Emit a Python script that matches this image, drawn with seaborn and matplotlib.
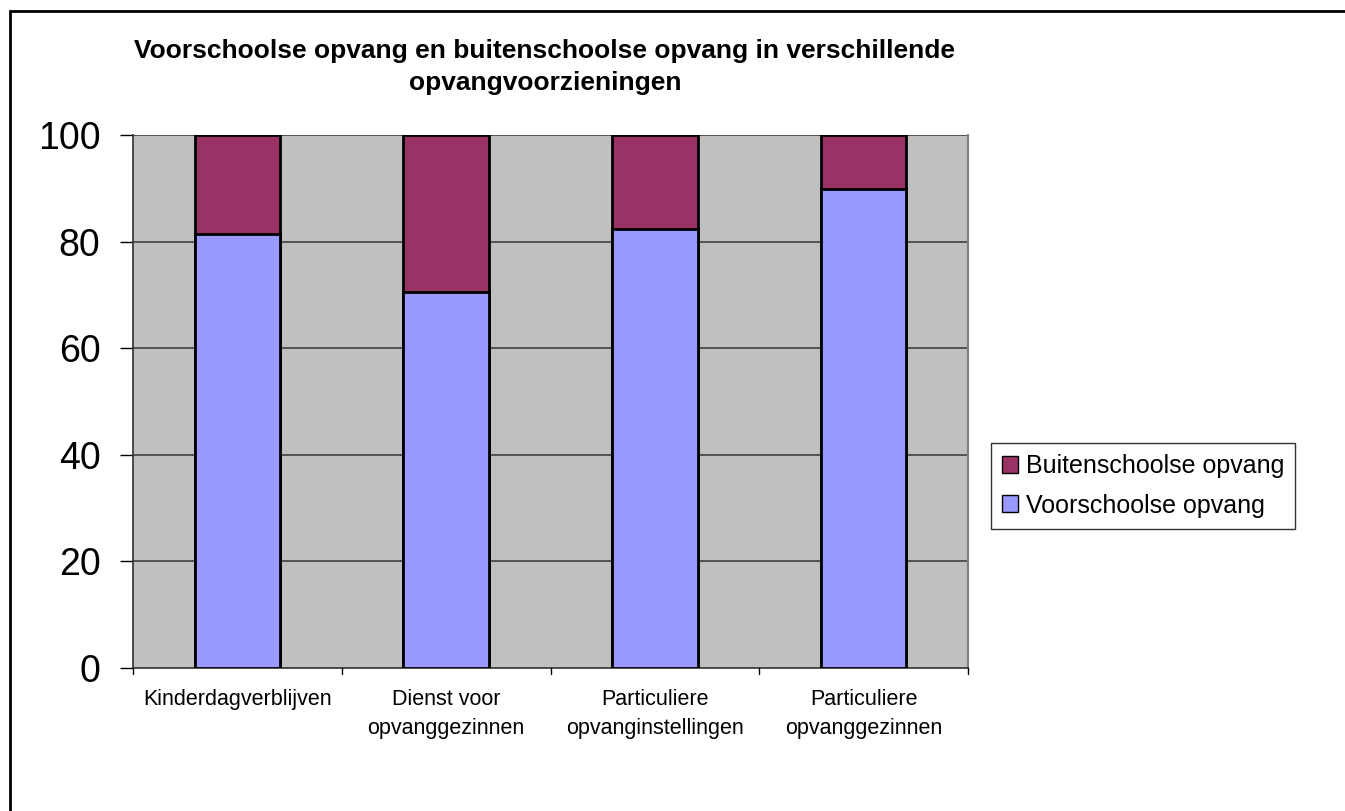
import matplotlib
matplotlib.use("Agg")
import matplotlib.pyplot as plt
import seaborn as sns
import pandas as pd
from matplotlib.patches import Patch, Rectangle

categories = ["Kinderdagverblijven", "Dienst voor\nopvanggezinnen",
              "Particuliere\nopvanginstellingen", "Particuliere\nopvanggezinnen"]
voorschoolse = [81.5, 70.6, 82.4, 89.8]
buitenschoolse = [18.5, 29.4, 17.6, 10.2]
yticks = [0, 20, 40, 60, 80, 100]

title = "Voorschoolse opvang en buitenschoolse opvang in verschillende\nopvangvoorzieningen"

BLUE = "#9999FF"
MAROON = "#993366"
BG = "#C0C0C0"

sns.set_theme(style="white")
plt.rcParams["font.family"] = ["Liberation Sans", "DejaVu Sans"]
plt.rcParams["text.color"] = "black"
plt.rcParams["xtick.color"] = "black"
plt.rcParams["ytick.color"] = "black"
plt.rcParams["xtick.labelcolor"] = "black"
plt.rcParams["ytick.labelcolor"] = "black"

df = pd.DataFrame({"cat": categories, "voor": voorschoolse, "buiten": buitenschoolse})
df["total"] = df["voor"] + df["buiten"]

fig = plt.figure(figsize=(13.45, 8.11), dpi=100)
ax = fig.add_axes([133/1345, 1 - 668/811, (968-133)/1345, (668-135)/811])
ax.set_facecolor(BG)

sns.barplot(data=df, x="cat", y="total", color=MAROON, saturation=1, width=0.41,
            edgecolor="black", linewidth=2, ax=ax, zorder=3)
sns.barplot(data=df, x="cat", y="voor", color=BLUE, saturation=1, width=0.41,
            edgecolor="black", linewidth=2, ax=ax, zorder=4)

ax.set_xlim(-0.5, 3.5)
ax.set_ylim(0, 100)
ax.set_yticks(yticks)
ax.set_yticklabels([str(t) for t in yticks], fontsize=27)
ax.set_xticks([0, 1, 2, 3])
ax.set_xticklabels(categories, fontsize=15.5, linespacing=1.5)
ax.set_xlabel("")
ax.set_ylabel("")
ax.tick_params(axis="x", length=0, pad=15)
ax.tick_params(axis="y", left=True, length=9.4, width=1, color="black", pad=14)
for b in [0.5, 1.5, 2.5, 3.5, -0.5]:
    ax.plot([b, b], [0, -0.012], transform=ax.get_xaxis_transform(), color="black",
            lw=1, clip_on=False, zorder=5)
ax.grid(False)
for y in yticks[1:]:
    ax.axhline(y, color="#404040", lw=1.2, zorder=1)

ax.spines["top"].set_visible(False)
ax.spines["right"].set_visible(True)
ax.spines["right"].set_color("#808080")
ax.spines["right"].set_linewidth(1.5)
ax.spines["left"].set_color("#303030")
ax.spines["bottom"].set_color("#303030")
ax.spines["left"].set_linewidth(1.2)
ax.spines["bottom"].set_linewidth(1.2)

fig.text(545/1345, 1 - 67/811, title, ha="center", va="center", fontsize=19,
         fontweight="bold", linespacing=1.45)

handles = [Patch(facecolor=MAROON, edgecolor="black", lw=1),
           Patch(facecolor=BLUE, edgecolor="black", lw=1)]
leg = fig.legend(handles, ["Buitenschoolse opvang", "Voorschoolse opvang"],
                 loc="center", bbox_to_anchor=(1143/1345, 1 - 486/811),
                 fontsize=18, frameon=True, fancybox=False, handlelength=0.65,
                 handleheight=0.65, handletextpad=0.3, borderpad=0.45,
                 labelspacing=0.6, borderaxespad=0)
leg.get_frame().set_edgecolor("black")
leg.get_frame().set_linewidth(1)

fig.patches.append(Rectangle((10/1345, -0.1), 1.2, 1 - 11/811 + 0.1,
                             transform=fig.transFigure, fill=False,
                             edgecolor="black", lw=2, zorder=10))

fig.savefig("out.png", dpi=100)
